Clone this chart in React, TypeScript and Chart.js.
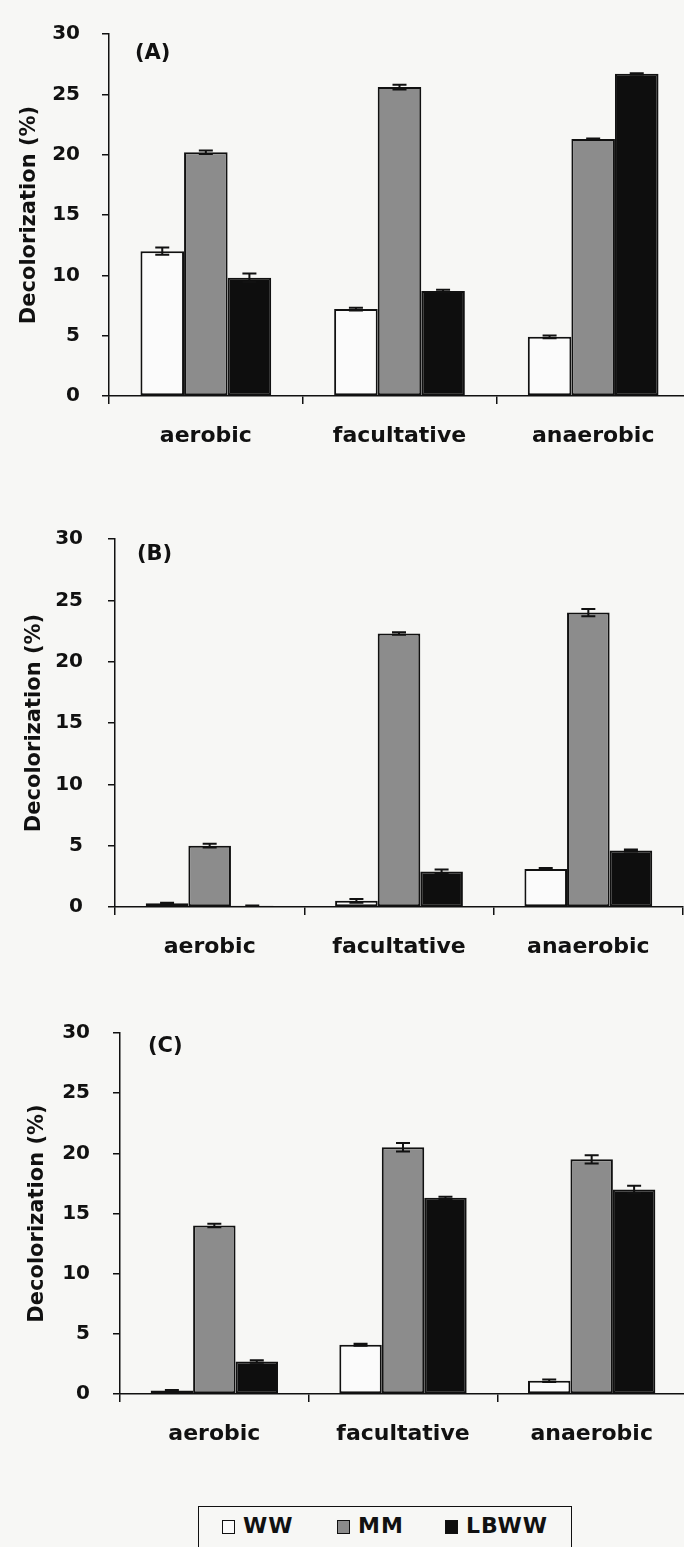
import React, { useEffect, useRef } from 'react';
import { Chart, registerables } from 'chart.js';

Chart.register(...registerables);

// ---------- data ----------
const CATEGORIES = ['aerobic', 'facultative', 'anaerobic'];
const SERIES_NAMES = ['WW', 'MM', 'LBWW'];
const PANEL_LABELS = ['(A)', '(B)', '(C)'];
const Y_TITLE = 'Decolorization (%)';
const Y_MIN = 0;
const Y_MAX = 30;
const Y_STEP = 5;

// Panel A
const A_WW = [12.0, 7.2, 4.9];
const A_MM = [20.2, 25.6, 21.3];
const A_LBWW = [9.8, 8.7, 26.7];
const A_WW_ERR = [0.3, 0.12, 0.12];
const A_MM_ERR = [0.15, 0.2, 0.05];
const A_LBWW_ERR = [0.35, 0.1, 0.05];

// Panel B
const B_WW = [0.3, 0.5, 3.1];
const B_MM = [5.0, 22.3, 24.0];
const B_LBWW = [0.1, 2.9, 4.6];
const B_WW_ERR = [0.05, 0.15, 0.08];
const B_MM_ERR = [0.15, 0.1, 0.3];
const B_LBWW_ERR = [0.02, 0.15, 0.08];

// Panel C
const C_WW = [0.3, 4.1, 1.1];
const C_MM = [14.0, 20.5, 19.5];
const C_LBWW = [2.7, 16.3, 17.0];
const C_WW_ERR = [0.03, 0.08, 0.1];
const C_MM_ERR = [0.15, 0.35, 0.35];
const C_LBWW_ERR = [0.1, 0.1, 0.3];

// ---------- style / layout ----------
const FONT = '"DejaVu Sans", "Liberation Sans", Arial, sans-serif';
const INK = '#111111';
const FILLS = ['#fbfbfb', '#8c8c8c', '#0e0e0e'];
const BG = '#f7f7f5';
const CANVAS_W = 700;

const PANELS = [
  {
    series: [A_WW, A_MM, A_LBWW],
    errors: [A_WW_ERR, A_MM_ERR, A_LBWW_ERR],
    label: PANEL_LABELS[0],
    top: 0, h: 470, y30: 20, y0: 396, left: 109, right: 690,
    tickPad: 22, titlePad: 17, labDx: 26, labDy: 20,
  },
  {
    series: [B_WW, B_MM, B_LBWW],
    errors: [B_WW_ERR, B_MM_ERR, B_LBWW_ERR],
    label: PANEL_LABELS[1],
    top: 500, h: 480, y30: 539, y0: 907, left: 115, right: 683,
    tickPad: 25, titlePad: 22, labDx: 22, labDy: 16,
  },
  {
    series: [C_WW, C_MM, C_LBWW],
    errors: [C_WW_ERR, C_MM_ERR, C_LBWW_ERR],
    label: PANEL_LABELS[2],
    top: 990, h: 480, y30: 1033, y0: 1394, left: 120, right: 686,
    tickPad: 23, titlePad: 25, labDx: 28, labDy: 14,
  },
];

const errorBarPlugin = {
  id: 'errorBars',
  afterDatasetsDraw(chart: any) {
    const ctx = chart.ctx;
    const yScale = chart.scales.y;
    ctx.save();
    ctx.strokeStyle = INK;
    ctx.lineWidth = 2;
    chart.data.datasets.forEach((ds: any, i: number) => {
      const meta = chart.getDatasetMeta(i);
      meta.data.forEach((bar: any, j: number) => {
        const v = ds.data[j];
        const e = ds.errors ? ds.errors[j] : 0;
        if (!e) return;
        const yt = yScale.getPixelForValue(v + e);
        const yb = yScale.getPixelForValue(Math.max(0, v - e));
        const x = bar.x;
        const cap = 7;
        ctx.beginPath();
        ctx.moveTo(x, yt);
        ctx.lineTo(x, yb);
        ctx.moveTo(x - cap, yt);
        ctx.lineTo(x + cap, yt);
        ctx.moveTo(x - cap, yb);
        ctx.lineTo(x + cap, yb);
        ctx.stroke();
      });
    });
    ctx.restore();
  },
};

function makeLabelPlugin(text: string, dx: number, dy: number) {
  return {
    id: 'panelLabel',
    afterDraw(chart: any) {
      const ctx = chart.ctx;
      const a = chart.chartArea;
      ctx.save();
      ctx.font = `bold 21px ${FONT}`;
      ctx.fillStyle = INK;
      ctx.textAlign = 'left';
      ctx.textBaseline = 'middle';
      ctx.fillText(text, a.left + dx, a.top + dy);
      ctx.restore();
    },
  };
}

function Panel({ cfg }: { cfg: any }) {
  const ref = useRef<HTMLCanvasElement>(null);
  useEffect(() => {
    const canvas = ref.current!;
    const chart = new Chart(canvas, {
      type: 'bar',
      data: {
        labels: CATEGORIES,
        datasets: cfg.series.map((vals: number[], i: number) => ({
          label: SERIES_NAMES[i],
          data: vals,
          errors: cfg.errors[i],
          backgroundColor: FILLS[i],
          borderColor: INK,
          borderWidth: 2,
          borderSkipped: false,
          categoryPercentage: 0.675,
          barPercentage: 1.0,
        })) as any,
      },
      options: {
        responsive: false,
        animation: false,
        devicePixelRatio: 1,
        layout: {
          padding: { top: cfg.y30 - cfg.top, right: CANVAS_W - cfg.right, left: 0, bottom: 0 },
        },
        plugins: {
          legend: { display: false },
          tooltip: { enabled: false },
        },
        scales: {
          x: {
            grid: {
              display: true,
              drawOnChartArea: false,
              drawTicks: true,
              tickLength: 8,
              color: INK,
              lineWidth: 1.5,
              offset: true,
            },
            border: { display: true, color: INK, width: 1.5 },
            ticks: {
              font: { family: FONT, size: 22, weight: 'bold' },
              color: INK,
              padding: 19,
              maxRotation: 0,
              autoSkip: false,
            },
            afterFit: (s: any) => {
              s.height = cfg.top + cfg.h - cfg.y0;
            },
          },
          y: {
            min: Y_MIN,
            max: Y_MAX,
            ticks: {
              stepSize: Y_STEP,
              font: { family: FONT, size: 20, weight: 'bold' },
              color: INK,
              padding: cfg.tickPad,
            },
            grid: {
              drawOnChartArea: false,
              drawTicks: true,
              tickLength: 7,
              color: INK,
              lineWidth: 1.5,
            },
            border: { display: true, color: INK, width: 1.5 },
            title: {
              display: true,
              text: Y_TITLE,
              font: { family: FONT, size: 21, weight: 'bold' },
              color: INK,
              padding: { top: cfg.titlePad, bottom: 0 },
            },
            afterFit: (s: any) => {
              s.width = cfg.left;
            },
          },
        },
      } as any,
      plugins: [errorBarPlugin, makeLabelPlugin(cfg.label, cfg.labDx, cfg.labDy)],
    });
    return () => chart.destroy();
  }, [cfg]);
  return (
    <canvas
      ref={ref}
      width={CANVAS_W}
      height={cfg.h}
      style={{ position: 'absolute', left: 0, top: cfg.top, width: CANVAS_W, height: cfg.h }}
    />
  );
}

const LEGEND_POS = [
  { sq: 222, tx: 243 },
  { sq: 337, tx: 358 },
  { sq: 445, tx: 466 },
];

export default function App() {
  return (
    <div
      style={{
        position: 'absolute',
        left: 0,
        top: 0,
        width: 684,
        height: 1547,
        overflow: 'hidden',
        background: BG,
      }}
    >
      {PANELS.map((p, i) => (
        <Panel key={i} cfg={p} />
      ))}
      <div
        style={{
          position: 'absolute',
          left: 198,
          top: 1506,
          width: 374,
          height: 70,
          border: `1.5px solid ${INK}`,
          boxSizing: 'border-box',
        }}
      />
      {SERIES_NAMES.map((name, i) => (
        <React.Fragment key={name}>
          <div
            style={{
              position: 'absolute',
              left: LEGEND_POS[i].sq,
              top: 1520,
              width: 13,
              height: 14,
              boxSizing: 'border-box',
              border: `1.5px solid ${INK}`,
              background: FILLS[i],
            }}
          />
          <div
            style={{
              position: 'absolute',
              left: LEGEND_POS[i].tx,
              top: 1515,
              fontFamily: FONT,
              fontWeight: 'bold',
              fontSize: 22,
              lineHeight: '22px',
              letterSpacing: 1,
              color: INK,
              whiteSpace: 'nowrap',
            }}
          >
            {name}
          </div>
        </React.Fragment>
      ))}
    </div>
  );
}
